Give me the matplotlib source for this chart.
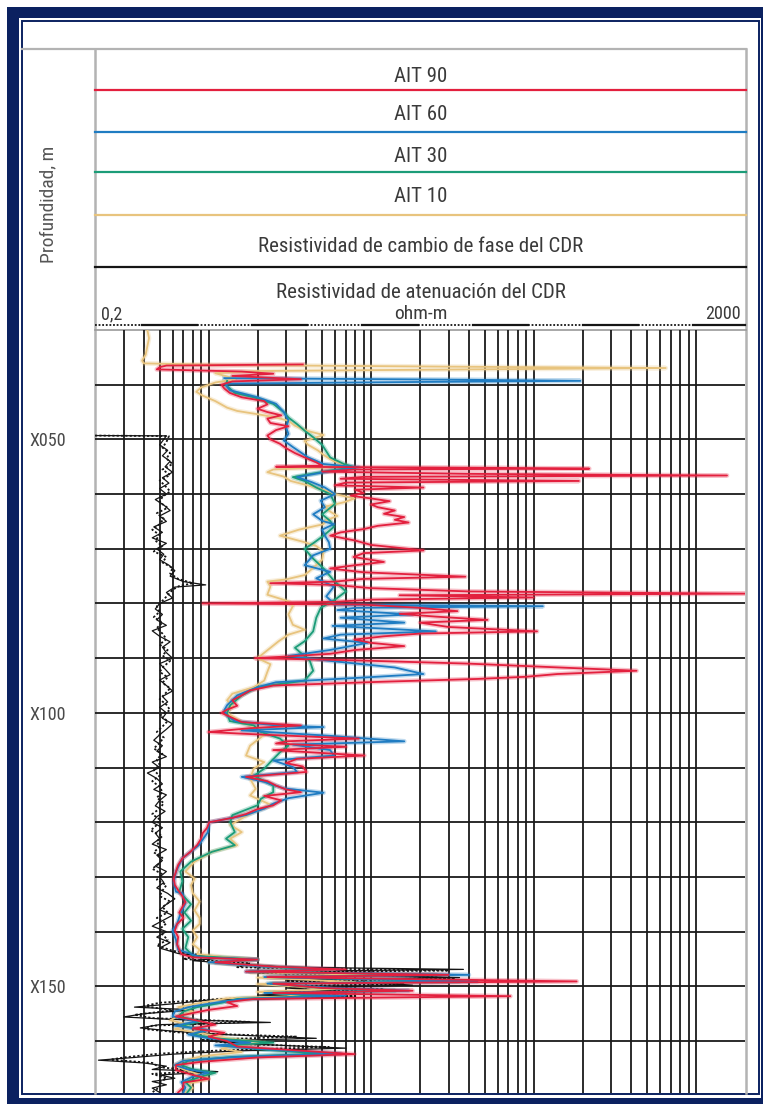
import os
import matplotlib
matplotlib.use('Agg')
import matplotlib.pyplot as plt
from matplotlib.patches import Rectangle
from matplotlib.ticker import NullLocator
from matplotlib import font_manager as fm

# pick a condensed sans font if one is installed, else Roboto
FP_PATH = None
for pref in ['liberationsansnarrow-regular', 'robotocondensed-regular', 'dejavusanscondensed.ttf',
             'opensans_condensed-regular', 'opensans-condensedregular', 'notosans-condensed.ttf',
             'notosanscondensed-regular']:
    for f in fm.fontManager.ttflist:
        if os.path.basename(f.fname).lower().startswith(pref):
            FP_PATH = f.fname
            break
    if FP_PATH:
        break


def fprop(size):
    if FP_PATH:
        return fm.FontProperties(fname=FP_PATH, size=size)
    return fm.FontProperties(family=['Roboto', 'DejaVu Sans'], size=size * 0.92)


# ---------------- data (depth m, resistivity ohm-m) ----------------
depth_ticks = [50, 100, 150]
depth_labels = ['X050', 'X100', 'X150']
track_titles = ['AIT 90', 'AIT 60', 'AIT 30', 'AIT 10',
                'Resistividad de cambio de fase del CDR',
                'Resistividad de atenuación del CDR']
scale_left, scale_unit, scale_right = '0,2', 'ohm-m', '2000'

ait10 = [(30.0, 0.42), (31.5, 0.43), (33.0, 0.42), (34.5, 0.41), (35.6, 0.39), (36.1, 0.40),
         (36.4, 1.2), (36.7, 30), (36.95, 650), (37.2, 40), (37.5, 2.0), (37.9, 1.1), (38.5, 1.3),
         (39.0, 1.45), (39.6, 1.1), (40.5, 0.9), (41.3, 0.84), (42.0, 0.92), (43.0, 1.1), (44.2, 1.3),
         (44.8, 1.5), (45.5, 2.1), (46.0, 2.6), (46.6, 3.1), (47.5, 3.4), (48.4, 4.0), (49.2, 5.1),
         (49.8, 4.4), (50.3, 3.9), (51.0, 4.1), (52.0, 4.7), (53.0, 5.2), (54.0, 5.9), (54.7, 7.0),
         (55.0, 6.5), (55.5, 2.5), (56.0, 2.3), (56.8, 2.9), (57.6, 3.2), (58.5, 4.2), (59.3, 5.2),
         (60.0, 6.0), (60.8, 7.9), (61.5, 6.8), (62.3, 5.2), (63.2, 5.6), (64.0, 6.2), (64.9, 5.2),
         (65.5, 5.1), (66.5, 3.6), (67.6, 2.75), (68.8, 3.9), (69.5, 4.6), (70.5, 5.1), (72.0, 5.0),
         (73.5, 4.4), (74.8, 3.9), (75.6, 3.0), (76.0, 2.3), (76.9, 2.4), (78.4, 2.3), (79.6, 3.1),
         (80.5, 3.3), (82.0, 3.1), (83.9, 3.3), (84.8, 3.9), (85.7, 3.1), (86.9, 2.7), (89.0, 2.2),
         (90.0, 2.0), (91.1, 2.4), (92.5, 2.3), (94.1, 2.2), (95.3, 1.9), (96.5, 1.4), (97.7, 1.3),
         (98.7, 1.4), (100.0, 1.3), (101.7, 1.6), (102.9, 2.05), (104.0, 2.2), (106.0, 1.8),
         (107.8, 1.7), (109.0, 2.2), (110.2, 1.9), (112.0, 1.8), (113.9, 1.95), (115.1, 1.8),
         (116.9, 2.45), (118.1, 1.9), (119.3, 1.6), (120.5, 1.36), (121.8, 1.6), (123.0, 1.36),
         (124.2, 1.5), (125.4, 1.05), (127.2, 0.82), (129.0, 0.72), (130.3, 0.82), (131.5, 0.78),
         (133.0, 0.80), (134.5, 0.88), (136.1, 0.82), (137.5, 0.88), (138.6, 0.88), (139.8, 0.80),
         (141.0, 0.85), (142.3, 0.80), (143.3, 0.88), (144.1, 0.85), (144.7, 1.3), (145.1, 2.0),
         (145.6, 1.0), (146.5, 2.5), (147.0, 6), (147.4, 1.8), (148.0, 12), (148.4, 2), (149.2, 8),
         (149.6, 2), (150.5, 6), (151.0, 2), (151.7, 4), (152.2, 1.3), (153.0, 0.9), (153.8, 0.65),
         (154.6, 0.80), (155.5, 0.65), (156.2, 0.58), (157.0, 0.75), (157.8, 0.62), (158.8, 1.0),
         (159.5, 1.3), (160.2, 2.2), (160.8, 1.5), (161.4, 1.2), (162.0, 1.6), (162.8, 0.9),
         (163.6, 0.7), (164.4, 0.62), (165.2, 0.7), (166.0, 0.85), (166.9, 1.0), (167.8, 0.75),
         (168.6, 0.8), (169.4, 0.72)]

ait30 = [(39.3, 1.3), (40.1, 1.28), (41.5, 1.45), (42.3, 1.9), (43.5, 2.5), (45.0, 2.9), (46.0, 3.1),
         (47.2, 3.5), (48.4, 3.9), (49.6, 4.4), (51.0, 5.0), (53.3, 5.6), (54.5, 6.8), (55.1, 7.9),
         (55.7, 5.6), (56.9, 3.3), (57.6, 3.9), (58.8, 4.6), (60.0, 5.6), (61.8, 6.0), (63.7, 5.0),
         (64.9, 5.6), (66.0, 5.9), (67.6, 5.1), (69.0, 4.4), (70.0, 3.9), (71.8, 4.4), (73.6, 5.1),
         (75.8, 5.9), (77.8, 7.0), (79.3, 6.0), (80.8, 4.9), (82.6, 4.6), (85.1, 4.4), (86.9, 3.9),
         (88.1, 3.4), (90.5, 4.2), (92.3, 4.4), (94.1, 3.9), (95.3, 2.0), (96.8, 1.6), (98.6, 1.36),
         (100.0, 1.3), (101.5, 1.35), (102.3, 1.9), (103.5, 2.1), (104.7, 2.75), (106.0, 3.1),
         (107.2, 2.75), (109.0, 2.4), (110.2, 2.2), (111.5, 1.9), (113.3, 2.5), (114.5, 2.5),
         (115.7, 2.1), (116.9, 2.0), (118.7, 1.4), (120.0, 1.36), (121.8, 1.45), (123.0, 1.28),
         (124.2, 1.45), (125.4, 1.05), (127.2, 0.78), (129.0, 0.67), (130.8, 0.69), (132.7, 0.66),
         (133.5, 0.70), (135.0, 0.78), (136.5, 0.71), (138.0, 0.78), (139.5, 0.69), (141.0, 0.75),
         (143.0, 0.72), (144.4, 0.80), (145.1, 2.0), (145.6, 1.1), (146.4, 2.3), (147.0, 5),
         (147.3, 1.8), (147.9, 25), (148.3, 2.4), (149.1, 35), (149.5, 2.4), (150.3, 5), (150.8, 14),
         (151.2, 2.3), (151.7, 5), (152.3, 1.5), (153.0, 1.2), (153.8, 0.85), (154.6, 0.7),
         (155.5, 0.65), (156.4, 0.9), (157.2, 0.68), (158.0, 0.95), (158.8, 0.8), (159.5, 1.1),
         (160.3, 2.5), (160.8, 1.3), (161.5, 2.0), (162.3, 5), (162.9, 1.4), (163.6, 0.75),
         (164.4, 0.68), (165.2, 0.8), (165.8, 1.1), (166.5, 0.9), (167.5, 0.72), (168.5, 0.78),
         (169.4, 0.74)]

ait60 = [(38.8, 1.25), (39.1, 40), (39.3, 194), (39.5, 20), (39.8, 1.3), (40.1, 1.28), (41.0, 1.35),
         (42.3, 2.0), (43.5, 2.6), (45.0, 2.9), (46.5, 3.1), (47.8, 3.0), (49.0, 3.1), (50.2, 2.9),
         (51.4, 3.3), (53.3, 4.1), (54.5, 5.1), (55.1, 8.4), (55.8, 5.6), (56.9, 3.5), (57.8, 4.3),
         (58.8, 5.2), (60.0, 6.0), (61.2, 4.9), (62.4, 5.2), (63.7, 4.4), (64.9, 5.0), (65.5, 5.9),
         (66.5, 5.0), (67.6, 5.2), (68.8, 5.5), (70.0, 5.6), (71.2, 4.4), (73.0, 3.9), (74.2, 5.6),
         (75.4, 4.6), (76.9, 5.9), (78.7, 5.3), (80.2, 6), (80.5, 114), (80.8, 8), (81.2, 6.2),
         (82.0, 18), (82.6, 6.5), (83.5, 16), (84.1, 5.8), (85.1, 25), (85.7, 6.5), (86.4, 5.1),
         (87.2, 9.5), (88.5, 5.6), (89.6, 3.1), (90.5, 5.6), (91.7, 14), (92.9, 21), (93.5, 9.5),
         (94.4, 2.6), (95.3, 2.0), (96.8, 1.5), (98.6, 1.3), (99.5, 1.25), (100.5, 1.3), (101.5, 1.45),
         (102.3, 2.6), (102.6, 5.1), (103.2, 1.6), (104.2, 5.6), (105.2, 16), (105.8, 3.3),
         (106.8, 5.6), (107.8, 5.9), (108.7, 2.5), (109.9, 3.3), (110.8, 3.5), (111.7, 1.6),
         (112.6, 2.2), (113.8, 2.9), (114.6, 5.1), (115.6, 3.1), (116.6, 2.5), (117.5, 2.2),
         (118.7, 1.7), (120.0, 1.01), (121.8, 0.99), (124.2, 0.87), (126.6, 0.69), (129.0, 0.63),
         (131.0, 0.61), (132.7, 0.63), (133.0, 0.69), (134.8, 0.72), (136.8, 0.67), (138.6, 0.64),
         (139.8, 0.60), (141.5, 0.63), (143.3, 0.65), (144.7, 0.9), (145.1, 2.0), (145.6, 1.0),
         (146.4, 2.2), (146.9, 6.5), (147.3, 1.7), (147.9, 40), (148.3, 2.2), (149.1, 45),
         (149.5, 2.3), (150.3, 6), (150.8, 17), (151.2, 2.2), (151.7, 7), (152.3, 1.6), (153.0, 1.1),
         (153.8, 0.75), (154.6, 0.62), (155.5, 0.60), (156.4, 0.85), (157.2, 0.62), (158.0, 1.0),
         (158.8, 0.75), (159.5, 1.0), (160.3, 1.8), (160.8, 1.1), (161.5, 2.2), (162.3, 6.5),
         (162.9, 1.5), (163.6, 0.7), (164.4, 0.62), (165.2, 0.75), (165.8, 1.0), (166.5, 0.8),
         (167.5, 0.68), (168.5, 0.72), (169.4, 0.70)]

ait90 = [(36.3, 3.8), (36.5, 0.55), (36.8, 0.50), (37.2, 0.48), (37.6, 1.6), (38.0, 2.5), (38.4, 1.4),
         (39.0, 3.7), (39.4, 1.4), (40.0, 1.2), (40.7, 1.25), (41.5, 1.35), (42.3, 1.6), (43.0, 2.2),
         (43.6, 2.3), (44.4, 2.0), (45.0, 2.3), (45.6, 2.8), (46.2, 2.3), (47.0, 2.4), (47.6, 3.1),
         (48.3, 2.6), (49.3, 2.3), (50.0, 2.4), (50.8, 2.75), (51.6, 3.0), (52.5, 3.4), (53.3, 3.9),
         (54.2, 4.6), (54.8, 5.0), (55.0, 2.6), (55.2, 60), (55.35, 220), (55.5, 8), (55.9, 5),
         (56.3, 40), (56.6, 1550), (56.85, 9), (57.2, 6.5), (57.6, 190), (57.9, 7), (58.4, 6),
         (58.8, 21), (59.2, 8), (59.8, 9), (60.3, 7.5), (60.8, 10), (61.3, 13), (61.9, 10), (62.4, 11),
         (63.0, 14), (63.6, 12), (64.2, 16), (64.7, 14), (65.2, 17), (65.8, 11), (66.4, 9), (67.0, 6.5),
         (67.6, 5.6), (68.5, 8), (69.3, 10), (70.3, 21), (70.8, 9), (71.5, 7.8), (72.4, 12), (73.0, 8),
         (73.6, 5.6), (74.3, 9), (75.1, 38), (75.5, 9), (76.0, 6), (76.3, 2.4), (76.6, 6), (77.2, 10),
         (77.8, 40), (78.2, 2000), (78.5, 15), (78.9, 100), (79.3, 10), (79.7, 6), (80.0, 0.92),
         (80.2, 9), (80.8, 20), (81.4, 34), (81.9, 15), (82.4, 25), (83.0, 52), (83.5, 20), (84.3, 30),
         (85.1, 105), (85.5, 20), (86.0, 12), (86.6, 7.9), (87.2, 10), (87.8, 16), (88.5, 8), (89.2, 5.6),
         (89.7, 3), (90.0, 1.93), (90.4, 8), (91.0, 40), (91.6, 120), (92.3, 430), (92.9, 140),
         (93.4, 90), (93.8, 45), (94.3, 12), (95.0, 2.5), (95.9, 1.8), (96.8, 1.6), (97.7, 1.4),
         (98.7, 1.5), (99.4, 1.3), (100.0, 1.2), (100.9, 1.4), (101.7, 1.6), (102.3, 3.7), (102.8, 1.8),
         (103.5, 1.0), (104.0, 2.2), (104.7, 8.4), (105.2, 3.0), (105.6, 2.6), (106.2, 7.0),
         (106.8, 2.5), (107.8, 9.1), (108.4, 3.5), (109.2, 3.0), (109.8, 3.8), (110.8, 4.0),
         (111.7, 1.7), (112.5, 2.3), (113.3, 2.6), (114.0, 3.0), (114.5, 3.7), (115.2, 2.2),
         (116.0, 2.8), (116.9, 2.5), (117.6, 2.0), (118.5, 1.7), (119.2, 1.4), (120.0, 1.01),
         (121.0, 0.98), (122.0, 0.92), (123.0, 0.90), (124.2, 0.85), (125.3, 0.78), (126.6, 0.69),
         (127.8, 0.65), (129.0, 0.63), (130.3, 0.61), (131.5, 0.62), (132.7, 0.66), (133.5, 0.69),
         (134.6, 0.72), (135.5, 0.69), (136.5, 0.66), (137.5, 0.70), (138.6, 0.64), (139.8, 0.62),
         (141.0, 0.65), (142.3, 0.64), (143.3, 0.66), (144.1, 0.68), (144.7, 0.8), (145.1, 2.0),
         (145.6, 1.1), (146.4, 2.5), (146.9, 7), (147.3, 1.7), (147.9, 30), (148.3, 2.3), (149.1, 184),
         (149.5, 2.5), (150.3, 5), (150.8, 18), (151.2, 2.5), (151.8, 72), (152.3, 1.9), (152.9, 1.3),
         (153.6, 1.5), (154.3, 1.0), (155.5, 0.63), (156.4, 0.9), (157.0, 1.1), (157.7, 0.8),
         (158.5, 1.25), (159.2, 1.0), (160.0, 1.3), (161.0, 1.5), (161.8, 3.9), (162.4, 7.9),
         (163.0, 2.0), (163.8, 0.9), (164.4, 0.63), (165.3, 0.63), (166.2, 0.8), (166.9, 1.0),
         (167.6, 0.7), (168.5, 0.7), (169.4, 0.65)]

cdr_phase = [(49.3, 0.20), (49.35, 0.55), (50, 0.53), (51, 0.50), (52, 0.56), (53, 0.52), (54, 0.58),
             (55, 0.54), (56, 0.60), (57, 0.52), (58, 0.57), (59, 0.50), (60, 0.55), (61, 0.47),
             (62, 0.53), (63, 0.58), (64, 0.50), (65, 0.55), (66, 0.46), (67, 0.52), (68, 0.45),
             (69, 0.55), (70, 0.48), (71, 0.53), (72, 0.50), (73, 0.57), (74, 0.62), (75, 0.58),
             (76, 0.70), (76.6, 0.96), (77, 0.62), (78, 0.55), (79, 0.60), (80, 0.50), (81, 0.47),
             (82, 0.52), (83, 0.48), (84, 0.55), (85, 0.45), (86, 0.50), (87, 0.58), (88, 0.52),
             (89, 0.55), (90, 0.60), (91, 0.50), (92, 0.54), (93, 0.58), (94, 0.50), (95, 0.55),
             (96, 0.60), (97, 0.52), (98, 0.56), (99, 0.50), (100, 0.55), (101, 0.52), (102, 0.60),
             (103, 0.55), (104, 0.50), (105, 0.46), (106, 0.52), (107, 0.48), (108, 0.55), (109, 0.45),
             (110, 0.50), (111, 0.42), (112, 0.48), (113, 0.52), (114, 0.46), (115, 0.55), (116, 0.50),
             (117, 0.47), (118, 0.54), (119, 0.48), (120, 0.45), (121, 0.52), (122, 0.47), (123, 0.50),
             (124, 0.45), (125, 0.55), (126, 0.48), (127, 0.52), (128, 0.47), (129, 0.55), (130, 0.50),
             (131, 0.53), (132, 0.48), (133, 0.56), (134, 0.62), (135, 0.55), (136, 0.50), (137, 0.60),
             (138, 0.52), (139, 0.45), (140, 0.55), (141, 0.48), (142, 0.58), (143, 0.50), (144, 0.65),
             (144.8, 1.2), (145.3, 0.8), (146.0, 1.6), (146.5, 3), (146.9, 37), (147.3, 2), (148.0, 10),
             (148.4, 35), (148.8, 3), (149.4, 12), (149.8, 18), (150.3, 3), (151.0, 7), (151.6, 2),
             (152.0, 7), (152.5, 1.0), (153.2, 0.6), (153.8, 0.35), (154.3, 0.8), (155.0, 0.40),
             (155.6, 0.30), (156.0, 0.55), (156.6, 2.4), (157.0, 0.5), (157.6, 0.38), (158.2, 0.6),
             (158.8, 1.2), (159.5, 4.6), (160.0, 1.0), (160.6, 2.0), (161.3, 7.0), (161.8, 1.5),
             (162.4, 0.6), (163.0, 0.35), (163.5, 0.21), (164.0, 0.4), (164.6, 0.55), (165.2, 0.45),
             (165.6, 1.14), (166.2, 0.5), (166.8, 0.62), (167.4, 0.45), (168.0, 0.55), (168.6, 0.45),
             (169.4, 0.5)]

cdr_atten = [(49.3, 0.20), (49.4, 0.57), (50.5, 0.55), (51.5, 0.52), (52.5, 0.58), (53.5, 0.55),
             (54.5, 0.60), (55.5, 0.52), (56.5, 0.58), (57.5, 0.50), (58.5, 0.54), (59.5, 0.58),
             (60.5, 0.52), (61.5, 0.50), (62.5, 0.56), (63.5, 0.48), (64.5, 0.53), (65.5, 0.50),
             (66.5, 0.45), (67.5, 0.50), (68.5, 0.47), (69.5, 0.52), (70.5, 0.46), (71.5, 0.55),
             (72.5, 0.52), (73.5, 0.60), (74.5, 0.58), (75.5, 0.65), (76.3, 0.80), (76.8, 0.66),
             (77.5, 0.60), (78.5, 0.56), (79.5, 0.52), (80.5, 0.48), (81.5, 0.50), (82.5, 0.46),
             (83.5, 0.52), (84.5, 0.48), (85.5, 0.52), (86.5, 0.55), (87.5, 0.50), (88.5, 0.56),
             (89.5, 0.52), (90.5, 0.58), (91.5, 0.53), (92.5, 0.50), (93.5, 0.56), (94.5, 0.52),
             (95.5, 0.58), (96.5, 0.54), (97.5, 0.50), (98.5, 0.55), (99.5, 0.58), (100.5, 0.50),
             (101.5, 0.56), (102.5, 0.52), (103.5, 0.48), (104.5, 0.53), (105.5, 0.50), (106.5, 0.46),
             (107.5, 0.52), (108.5, 0.48), (109.5, 0.50), (110.5, 0.46), (111.5, 0.50), (112.5, 0.45),
             (113.5, 0.50), (114.5, 0.52), (115.5, 0.48), (116.5, 0.53), (117.5, 0.50), (118.5, 0.45),
             (119.5, 0.50), (120.5, 0.48), (121.5, 0.44), (122.5, 0.52), (123.5, 0.48), (124.5, 0.50),
             (125.5, 0.46), (126.5, 0.52), (127.5, 0.50), (128.5, 0.45), (129.5, 0.52), (130.5, 0.48),
             (131.5, 0.55), (132.5, 0.52), (133.5, 0.50), (134.5, 0.58), (135.5, 0.52), (136.5, 0.56),
             (137.5, 0.48), (138.5, 0.55), (139.5, 0.50), (140.5, 0.52), (141.5, 0.56), (142.5, 0.48),
             (143.5, 0.60), (144.3, 0.9), (145.0, 0.7), (145.8, 1.8), (146.5, 1.5), (147.1, 30),
             (147.5, 2), (148.2, 20), (148.6, 33), (149.0, 3), (149.6, 16), (150.0, 3), (150.6, 12),
             (151.2, 2.5), (151.8, 8), (152.3, 1.2), (153.0, 0.5), (153.6, 0.4), (154.4, 0.6),
             (155.2, 0.35), (155.8, 0.45), (156.5, 1.8), (157.2, 0.45), (157.8, 0.4), (158.5, 0.7),
             (159.2, 3.5), (159.8, 0.9), (160.5, 1.5), (161.1, 5.5), (161.7, 1.2), (162.3, 0.5),
             (163.0, 0.3), (163.4, 0.25), (164.0, 0.45), (164.8, 0.5), (165.5, 0.9), (166.0, 0.45),
             (166.8, 0.55), (167.6, 0.5), (168.4, 0.5), (169.4, 0.45)]

# ---------------- styling ----------------
W, H = 763, 1104
NAVY = '#0b2160'
RED, BLUE, GREEN, YELLOW, BLACK = '#e3203e', '#1f7cc2', '#1c9c78', '#e8c47e', '#151515'
TXT = '#3a3a3a'
GRAY = '#b3b3b3'

fig = plt.figure(figsize=(W / 100, H / 100), dpi=100)
bg = fig.add_axes([0, 0, 1, 1])
bg.set_xlim(0, W)
bg.set_ylim(H, 0)
bg.axis('off')

# frame
bg.add_patch(Rectangle((7, 7), W, H, color=NAVY, lw=0))
bg.add_patch(Rectangle((19, 18), 761 - 19, 1098 - 18, color='white', lw=0))
bg.add_patch(Rectangle((22, 21), 759 - 22, 1094 - 21, fill=False, ec=NAVY, lw=1.4))

L, R, TOP, BOT = 95, 746, 49, 1093
bg.plot([22, R], [TOP, TOP], color=GRAY, lw=1.6)
bg.plot([L, L], [TOP, BOT], color=GRAY, lw=1.8)
bg.plot([R, R], [TOP, BOT], color=GRAY, lw=1.8)

# header
cx = (L + R) / 2
for y, c in [(90, RED), (132, BLUE), (172, GREEN), (215, YELLOW), (267, BLACK)]:
    bg.plot([L, R], [y, y], color=c, lw=1.6)
for y, t in zip([76, 115, 157, 197, 246, 292], track_titles):
    bg.text(cx, y, t, ha='center', va='center', fontproperties=fprop(15), color=TXT)
bg.text(101, 314, scale_left, ha='left', va='center', fontproperties=fprop(13), color=TXT)
bg.text(cx, 314, scale_unit, ha='center', va='center', fontproperties=fprop(14), color=TXT)
bg.text(741, 314, scale_right, ha='right', va='center', fontproperties=fprop(13), color=TXT)
bounds = [95] + [142 + 55.1 * k for k in range(11)] + [745]
for i in range(len(bounds) - 1):
    if i % 2 == 0:
        bg.plot([bounds[i], bounds[i + 1]], [325, 325], color=BLACK, lw=1.3,
                linestyle=(0, (1.0, 1.0)))
    else:
        bg.plot([bounds[i], bounds[i + 1]], [325, 325], color=BLACK, lw=1.6)
bg.plot([L, R], [330, 330], color='#9a9a9a', lw=1.2)
bg.text(48, 204, 'Profundidad, m', rotation=90, ha='center', va='center',
        fontproperties=fprop(14), color='#555555')

# track
ax = fig.add_axes([L / W, 1 - BOT / H, (745 - L) / W, (BOT - 330) / H])
ax.set_xscale('log')
ax.set_xlim(0.2, 2000)
ax.set_ylim(169.5, 30.0)
ax.patch.set_alpha(0)
for s in ax.spines.values():
    s.set_visible(False)
ax.xaxis.set_major_locator(NullLocator())
ax.xaxis.set_minor_locator(NullLocator())
ax.yaxis.set_minor_locator(NullLocator())
ax.set_yticks(depth_ticks, labels=depth_labels)
ax.tick_params(axis='y', length=0, pad=21, labelcolor='#4a4a4a')
for lab in ax.get_yticklabels():
    lab.set_fontproperties(fprop(13))

grid_vals = [m * d for d in (0.1, 1, 10, 100) for m in range(1, 10) if 0.2 < m * d < 2000] + [1000]
for v in grid_vals:
    ax.axvline(v, color='#1a1a1a', lw=1.3, zorder=1)
for d in range(40, 161, 10):
    ax.axhline(d, color='#1a1a1a', lw=1.3, zorder=1)


def curve(data, color, lw=1.3, halo=True, **kw):
    d = [p[0] for p in data]
    v = [p[1] for p in data]
    if halo:
        ax.plot(v, d, color=color, lw=lw * 2.6, alpha=0.28, zorder=2, solid_joinstyle='round')
    ax.plot(v, d, color=color, lw=lw, zorder=3, **kw)


curve(cdr_phase, BLACK, lw=0.9, halo=False)
curve(cdr_atten, BLACK, lw=1.3, halo=False, linestyle=(0, (1.2, 1.2)))
curve(ait10, YELLOW)
curve(ait30, GREEN)
curve(ait60, BLUE)
curve(ait90, RED)

fig.savefig('out.png', dpi=100)
